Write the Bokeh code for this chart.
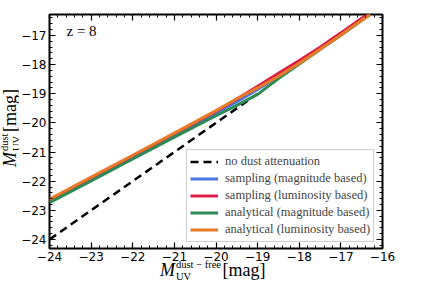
from bokeh.plotting import figure
from bokeh.models import (Range1d, SingleIntervalTicker, LinearAxis, Label, Legend, LegendItem, Div)
from bokeh.layouts import row, column
from bokeh.embed import file_html
from bokeh.resources import INLINE

# ---- data ----
m_free = [-24, -23, -22, -21, -20, -19.5, -19, -18.5, -18, -17.5, -17, -16.5, -16.3]
samp_mag = [-22.68, -21.92, -21.16, -20.40, -19.66, -19.27, -18.85, -18.40, -17.92, -17.44, -16.95, -16.45, -16.25]
samp_lum = [-22.66, -21.90, -21.13, -20.37, -19.60, -19.18, -18.74, -18.30, -17.86, -17.40, -16.91, -16.41, -16.22]
anal_mag = [-22.74, -21.99, -21.24, -20.49, -19.75, -19.40, -19.02, -18.48, -17.98, -17.48, -16.99, -16.49, -16.29]
anal_lum = [-22.62, -21.86, -21.11, -20.35, -19.58, -19.17, -18.80, -18.40, -17.95, -17.47, -16.98, -16.48, -16.28]
nodust_x = [-24, -19]
nodust_y = [-24, -19]

x_ticks = [-24, -23, -22, -21, -20, -19, -18, -17, -16]
x_tick_labels = ["\u221224", "\u221223", "\u221222", "\u221221", "\u221220", "\u221219", "\u221218", "\u221217", "\u221216"]
y_ticks = [-24, -23, -22, -21, -20, -19, -18, -17]
y_tick_labels = ["\u221224", "\u221223", "\u221222", "\u221221", "\u221220", "\u221219", "\u221218", "\u221217"]

series_labels = ["no dust attenuation", "sampling (magnitude based)", "sampling (luminosity based)",
                 "analytical (magnitude based)", "analytical (luminosity based)"]
colors = ["#4a74e0", "#dc1f46", "#2e8b57", "#e87a28"]
redshift_text = "z = 8"

SERIF = "Liberation Serif"

p = figure(width=398, height=266, output_backend="svg", toolbar_location=None,
           x_range=Range1d(-24, -16), y_range=Range1d(-24.31, -16.28),
           min_border_left=28, min_border_right=34, min_border_top=14, min_border_bottom=18,
           x_axis_location=None, y_axis_location=None)
p.grid.visible = False
p.outline_line_color = "black"
p.outline_line_width = 2
p.background_fill_color = "white"
p.border_fill_color = "white"


def make_axis(labels_on, ticks, labels):
    ax = LinearAxis(ticker=SingleIntervalTicker(interval=1, num_minor_ticks=5))
    ax.axis_line_color = None
    ax.major_tick_in = 6
    ax.major_tick_out = 0
    ax.minor_tick_in = 3
    ax.minor_tick_out = 0
    ax.major_tick_line_color = "black"
    ax.minor_tick_line_color = "black"
    ax.major_tick_line_width = 1.2
    ax.minor_tick_line_width = 1
    if labels_on:
        ax.major_label_text_font = "DejaVu Sans"
        ax.major_label_text_font_size = "12px"
        ax.major_label_text_color = "black"
        ax.major_label_standoff = 3
        ax.major_label_overrides = {t: l for t, l in zip(ticks, labels)}
    else:
        ax.major_label_text_color = None
        ax.major_label_text_font_size = "1px"
        ax.major_label_standoff = 0
    return ax

p.add_layout(make_axis(True, x_ticks, x_tick_labels), "below")
p.add_layout(make_axis(True, y_ticks, y_tick_labels), "left")
p.add_layout(make_axis(False, x_ticks, x_tick_labels), "above")
p.add_layout(make_axis(False, y_ticks, y_tick_labels), "right")

r0 = p.line(nodust_x, nodust_y, line_color="black", line_width=2.5, line_dash="8 5")
r1 = p.line(m_free, samp_mag, line_color=colors[0], line_width=3)
r2 = p.line(m_free, samp_lum, line_color=colors[1], line_width=3)
r3 = p.line(m_free, anal_mag, line_color=colors[2], line_width=3)
r4 = p.line(m_free, anal_lum, line_color=colors[3], line_width=3)

legend = Legend(items=[LegendItem(label=l, renderers=[r]) for l, r in zip(series_labels, [r0, r1, r2, r3, r4])],
                location=(137, 6))
legend.label_text_font = SERIF
legend.label_text_font_size = "12.5px"
legend.label_height = 17
legend.glyph_height = 17
legend.glyph_width = 28
legend.label_standoff = 7
legend.padding = 3
legend.spacing = 0
legend.margin = 0
legend.border_line_color = "#a0a0a0"
legend.border_line_width = 1
legend.background_fill_alpha = 1
p.add_layout(legend, "center")

p.add_layout(Label(x=17, y=210, x_units="screen", y_units="screen", text=redshift_text,
                   text_font=SERIF, text_font_size="15px", text_color="black"))

# axis labels as real HTML text (M with stacked super/subscript)
def math_label(sup):
    return (
        "<span style=\"font-family:'Liberation Serif'; color:black; white-space:nowrap;\">"
        "<span style='font-size:18px; font-style:italic;'>M</span>"
        "<span style='display:inline-block; vertical-align:-4px; font-size:10.5px; line-height:12px; "
        "text-align:left; margin-left:1px;'>" + sup + "<br>UV</span>"
        "<span style='font-size:18px;'>&#8202;[mag]</span></span>"
    )

xdiv = Div(text="<div style='padding-left:142px; line-height:20px;'>" + math_label("dust &#8722; free") + "</div>",
           width=398, height=16, margin=(-7, 0, 0, 0))

ydiv = Div(text=("<div style='position:relative; width:18px; height:266px;'>"
                 "<div style='position:absolute; left:0; top:0; line-height:17px; transform-origin:0 0; "
                 "transform:translate(-1px, 167px) rotate(-90deg);'>" + math_label("dust") + "</div></div>"),
           width=18, height=266, margin=(0, 0, 0, 0))

root = row(ydiv, column(p, xdiv, spacing=0), spacing=0)

open("out.html", "w").write(file_html(root, INLINE))
